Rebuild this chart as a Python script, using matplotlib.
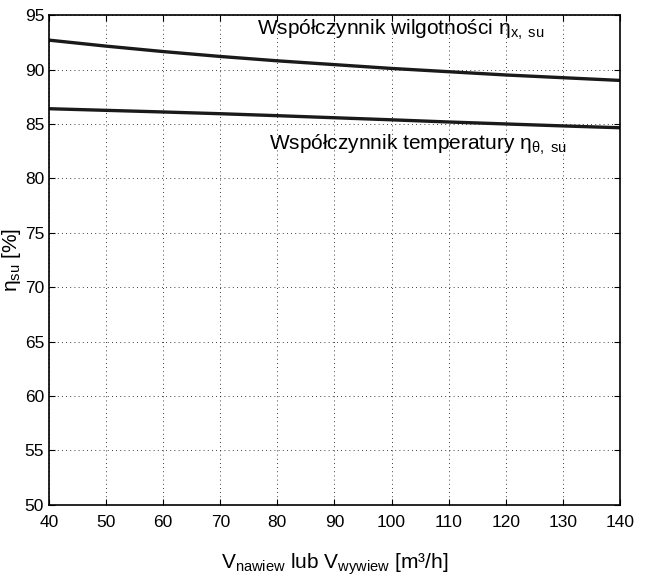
import matplotlib.pyplot as plt
import numpy as np

plt.rcParams['font.family'] = ['Liberation Sans', 'DejaVu Sans']
plt.rcParams['mathtext.fontset'] = 'custom'
plt.rcParams['mathtext.rm'] = 'Liberation Sans'
plt.rcParams['mathtext.it'] = 'Liberation Sans:italic'

# przeplyw powietrza [m3/h]
przeplyw = [40, 50, 60, 70, 80, 90, 100, 110, 120, 130, 140]
# wspolczynnik wilgotnosci
eta_x = [92.7, 92.15, 91.65, 91.2, 90.8, 90.45, 90.1, 89.8, 89.5, 89.25, 89.0]
# wspolczynnik temperatury
eta_t = [86.4, 86.25, 86.1, 85.94, 85.76, 85.57, 85.38, 85.18, 85.0, 84.82, 84.65]

fig = plt.figure(figsize=(6.45, 5.81), dpi=100)
ax = fig.add_axes([0.076, 0.131, 0.885, 0.843])

ax.plot(przeplyw, eta_x, color='#1a1a1a', lw=2.4, solid_joinstyle='round')
ax.plot(przeplyw, eta_t, color='#1a1a1a', lw=2.4, solid_joinstyle='round')

ax.text(76.5, 93.6, 'Współczynnik wilgotności η$_{\\mathrm{x,\\ su}}$',
        fontsize=15, va='center')
ax.text(78.5, 83.1, 'Współczynnik temperatury η$_{\\mathrm{θ,\\ su}}$',
        fontsize=15, va='center')

ax.set_xlim(40, 140)
ax.set_ylim(50, 95)
ax.set_xticks(np.arange(40, 141, 10))
ax.set_yticks(np.arange(50, 96, 5))
ax.tick_params(direction='in', labelsize=12.5, length=4, top=True, right=True)
ax.tick_params(axis='x', pad=7)
ax.grid(True, color='black', linestyle=(0, (1, 4)), lw=0.6)
for s in ax.spines.values():
    s.set_linewidth(1.2)

ax.set_xlabel('V$_{\\mathrm{nawiew}}$ lub V$_{\\mathrm{wywiew}}$ [m³/h]', fontsize=15, labelpad=16)
ax.set_ylabel('η$_{\\mathrm{su}}$ [%]', fontsize=15, labelpad=1)

fig.savefig('out.png', dpi=100)
